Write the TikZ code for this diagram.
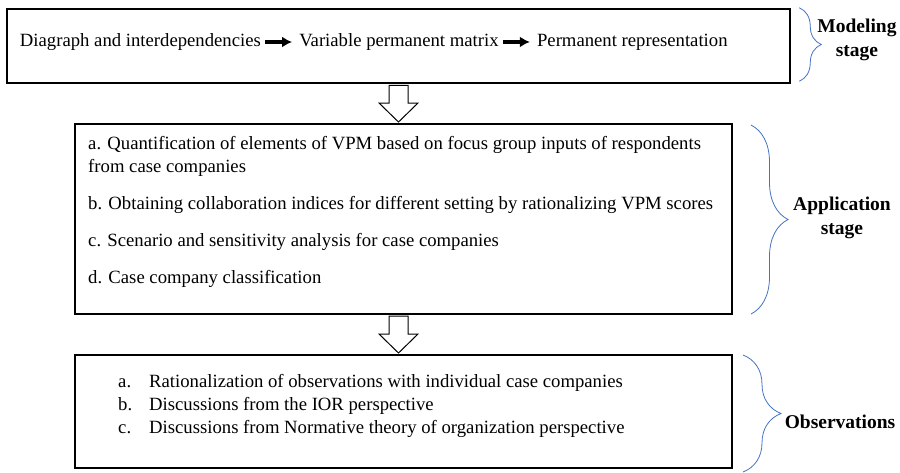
\documentclass[tikz,border=0pt]{standalone}
\usepackage{fontspec}
\setmainfont{Liberation Serif}
\newfontfamily\timesface{Liberation Serif}
\usetikzlibrary{positioning}
\usetikzlibrary{calc}
\usetikzlibrary{arrows.meta}
\usetikzlibrary{decorations.pathreplacing}
\definecolor{braceblue}{RGB}{68,114,196}

\tikzset{
  stagebox/.style={draw, line width=2pt, minimum width=657pt, inner sep=0pt},
  itemtext/.style={inner sep=0pt, font=\timesface\fontsize{18.7}{23}\selectfont},
  stagelabel/.style={align=center, inner sep=0pt, font=\timesface\fontsize{19.5}{24}\selectfont\bfseries},
  stagebrace/.style={draw=braceblue, line width=0.8pt, decorate, decoration={brace, amplitude=#1}},
  hollowarrow/.style={draw, fill=white, line width=1pt},
  flowarrow/.style={-{Latex[length=10pt,width=11pt]}, line width=3.5pt, shorten <=4pt, shorten >=7pt}
}

% block arrow pointing down, from the bottom of #1 to the top of #2
\newcommand{\blockdown}[2]{%
  \draw[hollowarrow] let \p1=(#1), \p2=(#2) in
    (\x1-9.5pt,\y1-1pt) -- (\x1-9.5pt,\y2+20pt) -- (\x1-19.5pt,\y2+20pt) -- (\x1,\y2+1pt)
    -- (\x1+19.5pt,\y2+20pt) -- (\x1+9.5pt,\y2+20pt) -- (\x1+9.5pt,\y1-1pt) -- cycle;}

\begin{document}
\begin{tikzpicture}[x=1pt,y=-1pt]
\useasboundingbox (0,0) rectangle (900,472);

% the three stages
\node[stagebox, line width=2.5pt, minimum width=783pt, minimum height=74pt] (model) at (398.5,46) {};
\node[stagebox, minimum height=190pt] (apply) at (403.5,219) {};
\node[stagebox, minimum height=113pt] (observe) at (403.5,411.5) {};

% modeling chain
\node[itemtext, anchor=west] (digraph) at ($(model.west)+(14,-4)$) {Diagraph and interdependencies};
\node[itemtext, base right=38pt of digraph] (vpm) {Variable permanent matrix};
\node[itemtext, base right=38pt of vpm] (perm) {Permanent representation};
\draw[flowarrow] (digraph.east) -- (digraph.east -| vpm.west);
\draw[flowarrow] (vpm.east) -- (vpm.east -| perm.west);

% application steps
\node[itemtext, anchor=base west] (tasks) at ($(apply.north west)+(14,26)$) {%
  \begin{tabular}[t]{@{}l@{}}
  a. Quantification of elements of VPM based on focus group inputs of respondents\\
  from case companies\\[14pt]
  b. Obtaining collaboration indices for different setting by rationalizing VPM scores\\[14pt]
  c. Scenario and sensitivity analysis for case companies\\[14pt]
  d. Case company classification
  \end{tabular}};

% observations
\node[itemtext, anchor=base west] (findings) at ($(observe.north west)+(44,33)$) {%
  \begin{tabular}[t]{@{}p{31pt}@{}l@{}}
  a. & Rationalization of observations with individual case companies\\
  b. & Discussions from the IOR perspective\\
  c. & Discussions from Normative theory of organization perspective
  \end{tabular}};

\blockdown{model.south}{apply.north}
\blockdown{model.south |- apply.south}{observe.north}

% braces and stage names
\draw[stagebrace=22pt] ($(model.north east)+(8,0)$) -- ($(model.south east)+(8,-3)$);
\draw[stagebrace=37pt] ($(apply.north east)+(18,2)$) -- ($(apply.south east)+(18,-1)$);
\draw[stagebrace=38pt] ($(observe.north east)+(10,1)$) -- ($(observe.south east)+(10,3)$);

\node[stagelabel] (modellabel) at (857,40) {Modeling\\stage};
\node[stagelabel] (applylabel) at (842,218) {Application\\stage};
\node[stagelabel] (observelabel) at (840,422) {Observations};
\end{tikzpicture}
\end{document}
